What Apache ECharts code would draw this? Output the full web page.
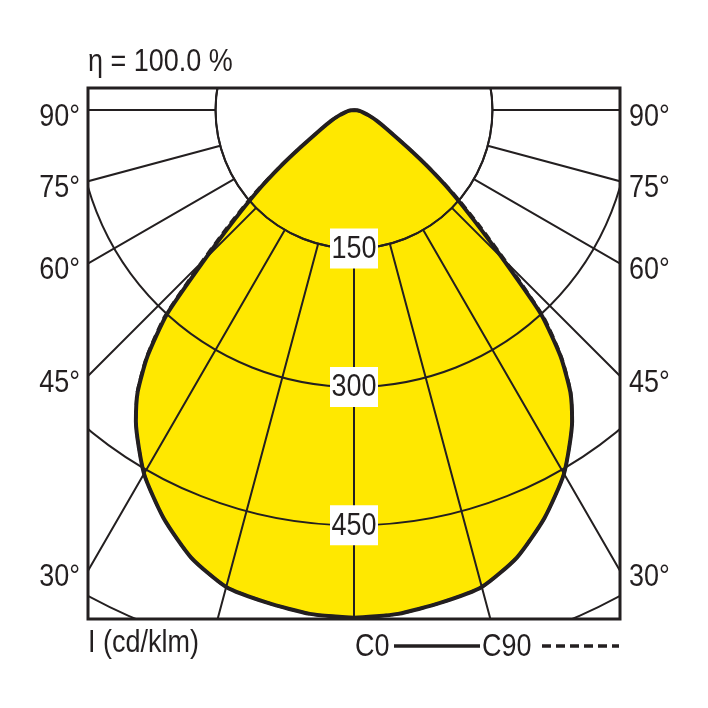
<!DOCTYPE html>
<html>
<head>
<meta charset="utf-8">
<script src="https://cdn.jsdelivr.net/npm/echarts@6/dist/echarts.min.js"></script>
<style>html,body{margin:0;padding:0;background:#fff}#chart{width:708px;height:708px}</style>
</head>
<body>
<div id="chart"></div>
<script>
// luminous intensity, cd/klm, read at these angles (0 = straight down)
var angles = [0, 5, 10, 15, 20, 25, 30, 35, 37.5, 40, 42.5, 45, 47.5, 50, 52.5, 55, 60, 65, 70, 75, 80, 85, 90];
var c0  = [550, 548, 542, 535, 516, 488, 455, 412, 385, 348, 300, 228, 175, 136, 100, 71, 41, 27, 17, 10, 6, 3, 0];
var c90 = [550, 548, 542, 535, 516, 488, 455, 412, 386, 350, 304, 235, 182, 141, 103, 72, 41, 27, 17, 10, 6, 3, 0];
var ringLabels = [150, 300, 450];
var angleLabels = [90, 75, 60, 45, 30];
var legendNames = ['C0', 'C90'];
var titleText = 'η = 100.0 %';
var unitText = 'I (cd/klm)';

// layout (px)
var frame = {x: 88, y: 88, w: 532, h: 531};
var cx = 354, cy = 110;
var pxPerUnit = 0.923;
var rMax = 750;
var font = '"Liberation Sans", Arial, sans-serif';
var fontSize = 31;
var narrow = 0.87; // squeeze Arial-like glyphs to a condensed face
var ink = '#231f20';

// both halves of a symmetric plane
function mirror(vals) {
	var d = [];
	for(var i = angles.length - 1; i > 0; i--) d.push([vals[i], -angles[i]]);
	for(var j = 0; j < angles.length; j++) d.push([vals[j], angles[j]]);
	return d;
}

function label(text, x, y, align) {
	return {type: 'text', x: x, y: y, scaleX: narrow, z: 102,
		style: {text: text, font: fontSize + 'px ' + font, fill: ink, textAlign: align || 'left', textVerticalAlign: 'middle'}};
}

var chart = echarts.init(document.getElementById('chart'));
var gridLine = {color: ink, width: 2};
chart.setOption({
	backgroundColor: '#fff',
	animation: false,
	polar: [
		{center: [cx, cy], radius: [150 * pxPerUnit, rMax * pxPerUnit]},
		{center: [cx, cy], radius: [0, rMax * pxPerUnit]}
	],
	angleAxis: [
		{polarIndex: 0, type: 'value', min: -180, max: 180, interval: 15, startAngle: 90, z: 3,
			axisLine: {show: true, lineStyle: gridLine}, axisTick: {show: false}, axisLabel: {show: false},
			splitLine: {show: true, lineStyle: gridLine}},
		{polarIndex: 1, type: 'value', min: -180, max: 180, startAngle: 90, show: false}
	],
	radiusAxis: [
		{polarIndex: 0, type: 'value', min: 150, max: rMax, interval: 150, z: 3,
			axisLine: {show: false}, axisTick: {show: false}, axisLabel: {show: false},
			splitLine: {show: true, lineStyle: gridLine}},
		{polarIndex: 1, type: 'value', min: 0, max: rMax, show: false}
	],
	series: [
		{type: 'line', name: 'fill', coordinateSystem: 'polar', polarIndex: 1, data: mirror(c0),
			smooth: 0.2, symbol: 'none', silent: true, z: 1,
			lineStyle: {width: 0}, areaStyle: {color: '#ffe800', opacity: 1}},
		{type: 'line', name: legendNames[0], coordinateSystem: 'polar', polarIndex: 1, data: mirror(c0),
			smooth: 0.2, symbol: 'none', z: 4, lineStyle: {color: ink, width: 4}},
		{type: 'line', name: legendNames[1], coordinateSystem: 'polar', polarIndex: 1, data: mirror(c90),
			smooth: 0.2, symbol: 'none', z: 5, lineStyle: {color: ink, width: 3, type: [8, 5]}}
	]
});

// white masks outside the frame, frame, texts
var graphics = [
	{type: 'rect', shape: {x: 0, y: 0, width: 708, height: frame.y}, style: {fill: '#fff'}, z: 100},
	{type: 'rect', shape: {x: 0, y: frame.y + frame.h, width: 708, height: 708 - frame.y - frame.h}, style: {fill: '#fff'}, z: 100},
	{type: 'rect', shape: {x: 0, y: 0, width: frame.x, height: 708}, style: {fill: '#fff'}, z: 100},
	{type: 'rect', shape: {x: frame.x + frame.w, y: 0, width: 708 - frame.x - frame.w, height: 708}, style: {fill: '#fff'}, z: 100},
	{type: 'rect', shape: {x: frame.x, y: frame.y, width: frame.w, height: frame.h}, style: {fill: 'none', stroke: ink, lineWidth: 3}, z: 101},
	label(titleText, frame.x, 62),
	label(unitText, frame.x, 643)
];
angleLabels.forEach(function(a) {
	var y = cy + (a === 90 ? 0 : (cx - frame.x) / Math.tan(a * Math.PI / 180)) + 7;
	graphics.push(label(a + '°', frame.x - 8, y, 'right'));
	graphics.push(label(a + '°', frame.x + frame.w + 9, y, 'left'));
});
// ring value boxes on the 0° ray
ringLabels.forEach(function(v) {
	var p = chart.convertToPixel({seriesIndex: 1}, [v, 0]);
	graphics.push({type: 'rect', shape: {x: p[0] - 24, y: p[1] - 20, width: 48, height: 40}, style: {fill: '#fff'}, z: 102});
	graphics.push(label(String(v), p[0], p[1] + 1, 'center'));
});
// legend: name then line sample
graphics.push(label(legendNames[0], 355, 647));
graphics.push({type: 'line', shape: {x1: 394, y1: 646, x2: 480, y2: 646}, style: {stroke: ink, lineWidth: 3.5}, z: 102});
graphics.push(label(legendNames[1], 482, 647));
graphics.push({type: 'line', shape: {x1: 542, y1: 646, x2: 619, y2: 646}, style: {stroke: ink, lineWidth: 3.5, lineDash: [9, 5]}, z: 102});

chart.setOption({graphic: graphics});
</script>
</body>
</html>
